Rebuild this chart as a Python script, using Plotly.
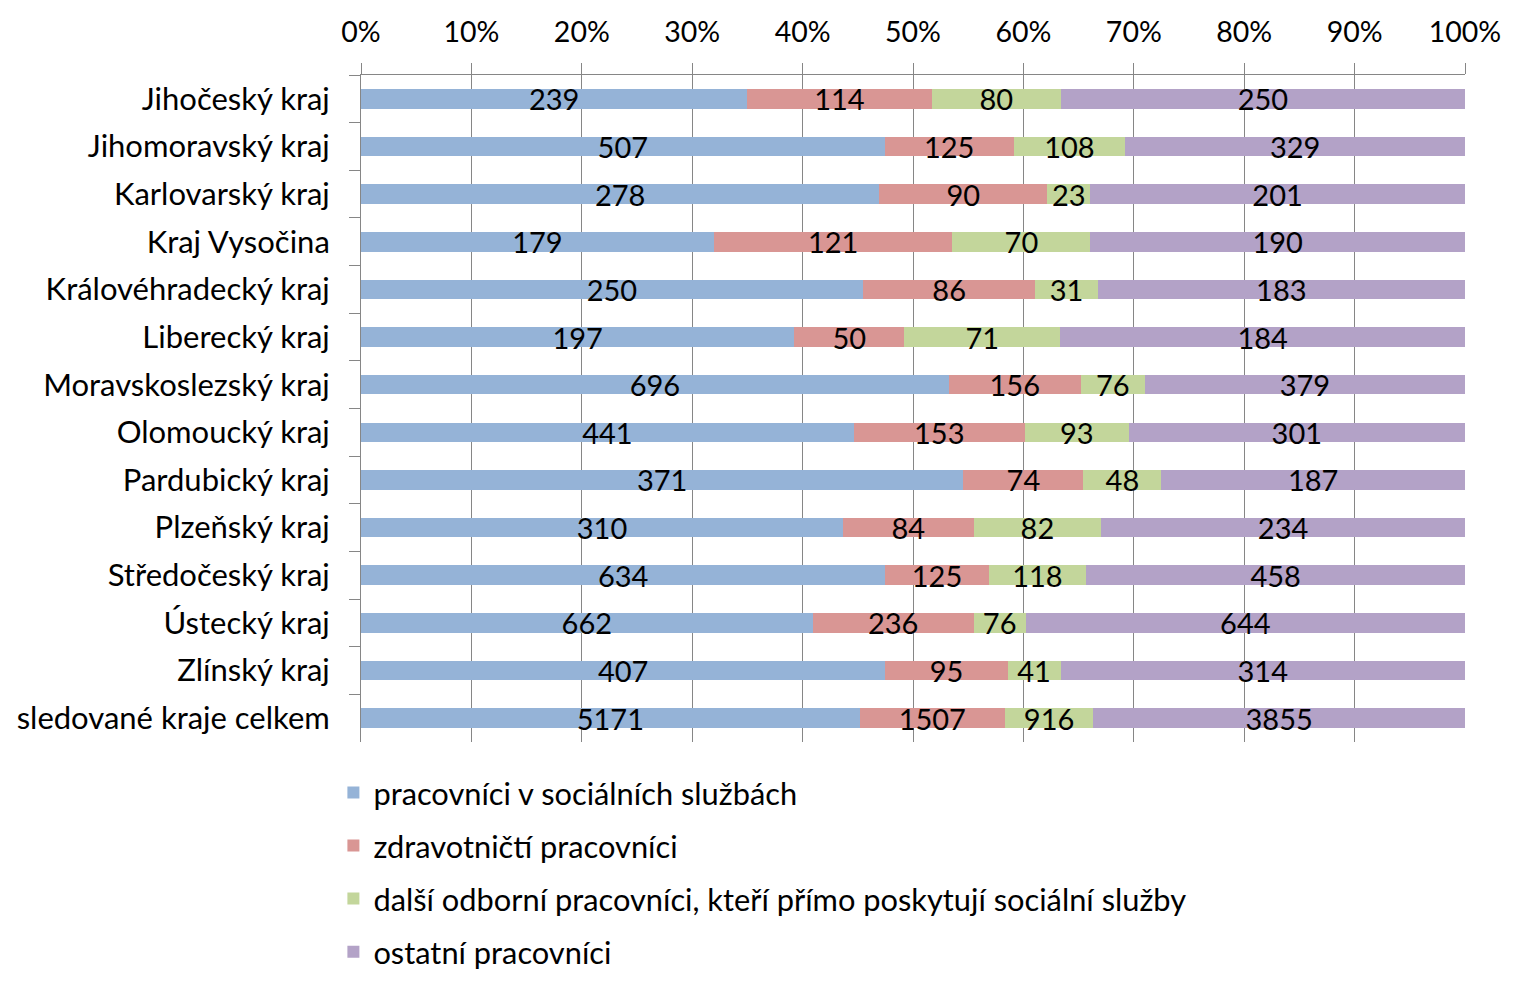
import plotly.graph_objects as go

categories = ["Jihočeský kraj", "Jihomoravský kraj", "Karlovarský kraj", "Kraj Vysočina",
              "Královéhradecký kraj", "Liberecký kraj", "Moravskoslezský kraj", "Olomoucký kraj",
              "Pardubický kraj", "Plzeňský kraj", "Středočeský kraj", "Ústecký kraj",
              "Zlínský kraj", "sledované kraje celkem"]

social = [239, 507, 278, 179, 250, 197, 696, 441, 371, 310, 634, 662, 407, 5171]
health = [114, 125, 90, 121, 86, 50, 156, 153, 74, 84, 125, 236, 95, 1507]
other_prof = [80, 108, 23, 70, 31, 71, 76, 93, 48, 82, 118, 76, 41, 916]
others = [250, 329, 201, 190, 183, 184, 379, 301, 187, 234, 458, 644, 314, 3855]

series_names = ["pracovníci v sociálních službách", "zdravotničtí pracovníci",
                "další odborní pracovníci, kteří přímo poskytují sociální služby",
                "ostatní pracovníci"]
series_values = [social, health, other_prof, others]
colors = ["#95B3D7", "#D99694", "#C3D69B", "#B3A2C7"]

FONT = "Lato"
FS_DATA = 29
FS_X = 28.5
FS_CAT = 31
FS_LEG = 30.8

fig = go.Figure()
for name, vals, col in zip(series_names, series_values, colors):
    fig.add_trace(go.Bar(
        y=categories, x=vals, name=name, orientation="h",
        marker=dict(color=col, line=dict(width=0)),
        text=[str(v) for v in vals], textposition="inside",
        insidetextanchor="middle", textangle=0,
        textfont=dict(family=FONT, size=FS_DATA, color="black"),
        legendgroup=name,
    ))

fig.update_layout(
    width=1525, height=986,
    barmode="stack", barnorm="percent", bargap=0.59,
    uniformtext=dict(minsize=FS_DATA, mode="show"),
    plot_bgcolor="white", paper_bgcolor="white",
    font=dict(family=FONT, size=FS_CAT, color="black"),
    margin=dict(l=353, r=68, t=67, b=252, autoexpand=False),
    showlegend=True,
    legend=dict(orientation="v", x=-0.025, xanchor="left", y=-0.036, yanchor="top",
                traceorder="grouped", tracegroupgap=10,
                font=dict(family=FONT, size=FS_LEG, color="black")),
    xaxis=dict(side="top", range=[0, 100], dtick=10, ticksuffix="%",
               showgrid=True, gridcolor="#868686", gridwidth=1,
               showline=True, linecolor="#868686", linewidth=1,
               ticks="outside", ticklen=11, tickcolor="#868686",
               ticklabelstandoff=10, zeroline=False, automargin=False,
               tickfont=dict(family=FONT, size=FS_X)),
    yaxis=dict(autorange="reversed", showline=True, linecolor="#868686", linewidth=1,
               ticks="outside", ticklen=11, tickcolor="#868686", tickson="boundaries",
               ticklabelstandoff=24, showgrid=False, automargin=False,
               tickfont=dict(family=FONT, size=FS_CAT)),
)

fig.write_html("out.html")
